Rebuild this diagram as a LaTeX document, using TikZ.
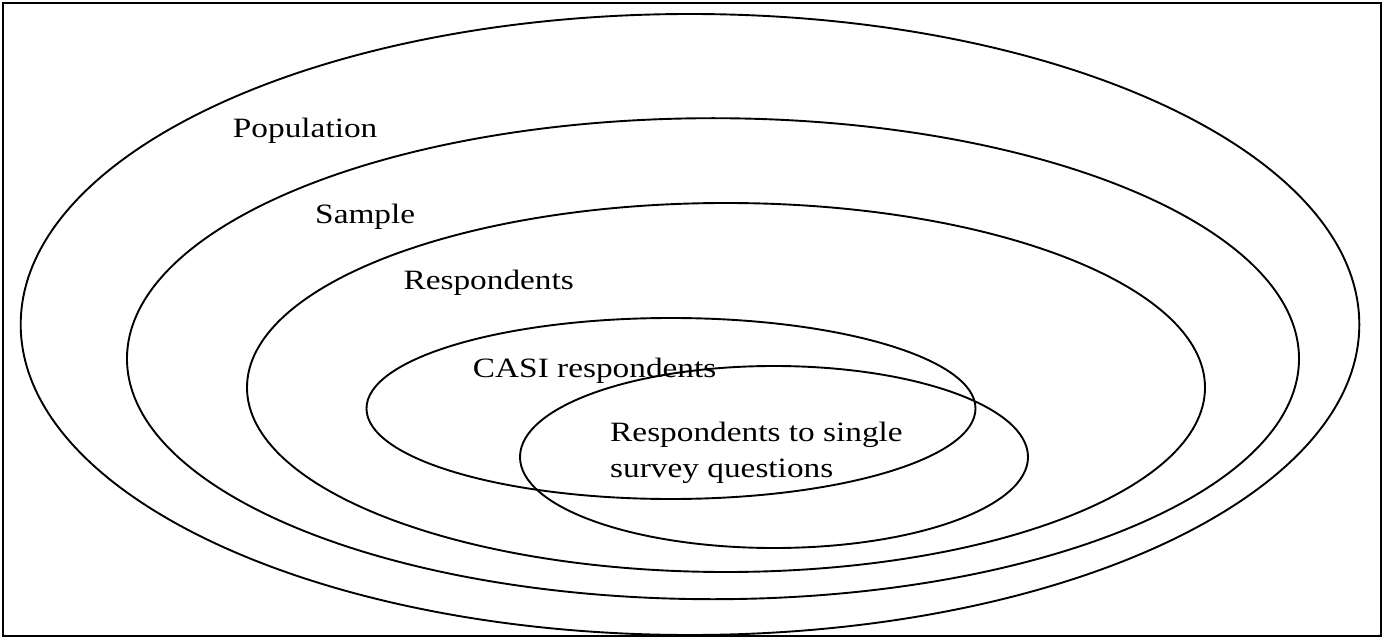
\documentclass[tikz,border=0pt]{standalone}
\usepackage{fontspec}
\setmainfont{Liberation Serif}
\usepackage{tikz}
\usetikzlibrary{shapes.geometric}

\begin{document}
\begin{tikzpicture}[
  x=1pt, y=-1pt,
  region/.style={draw, ellipse, line width=1.9pt, inner sep=0pt, outer sep=0pt},
  setlabel/.style={anchor=base west, inner sep=0pt, xscale=1.19, align=left,
    font=\fontsize{28}{36.7}\selectfont}
]
\useasboundingbox (0,0) rectangle (1382,639);
\draw[line width=1.7pt] (3.2,3.2) rectangle (1381,636);

% nested sets
\node[region, minimum width=1338.6pt, minimum height=621pt] (pop) at (690,324.5) {};
\node[region, minimum width=1172pt, minimum height=481pt] (sample) at (713,358.7) {};
\node[region, minimum width=958pt, minimum height=369pt] (resp) at (726,387.5) {};
\node[region, minimum width=609pt, minimum height=181pt] (casi) at (671,408.5) {};
\node[region, minimum width=508pt, minimum height=182pt] (single) at (774,457) {};

% labels
\node[setlabel] (poplbl) at (232.7,138) {Population};
\node[setlabel] (samplelbl) at (315,223.3) {Sample};
\node[setlabel] (resplbl) at (403.3,290) {Respondents};
\node[setlabel] (casilbl) at (472.7,377.3) {CASI respondents};
\node[setlabel, anchor=north west] (singlelbl) at (610,421.5) {Respondents to single\\survey questions};

\end{tikzpicture}
\end{document}
